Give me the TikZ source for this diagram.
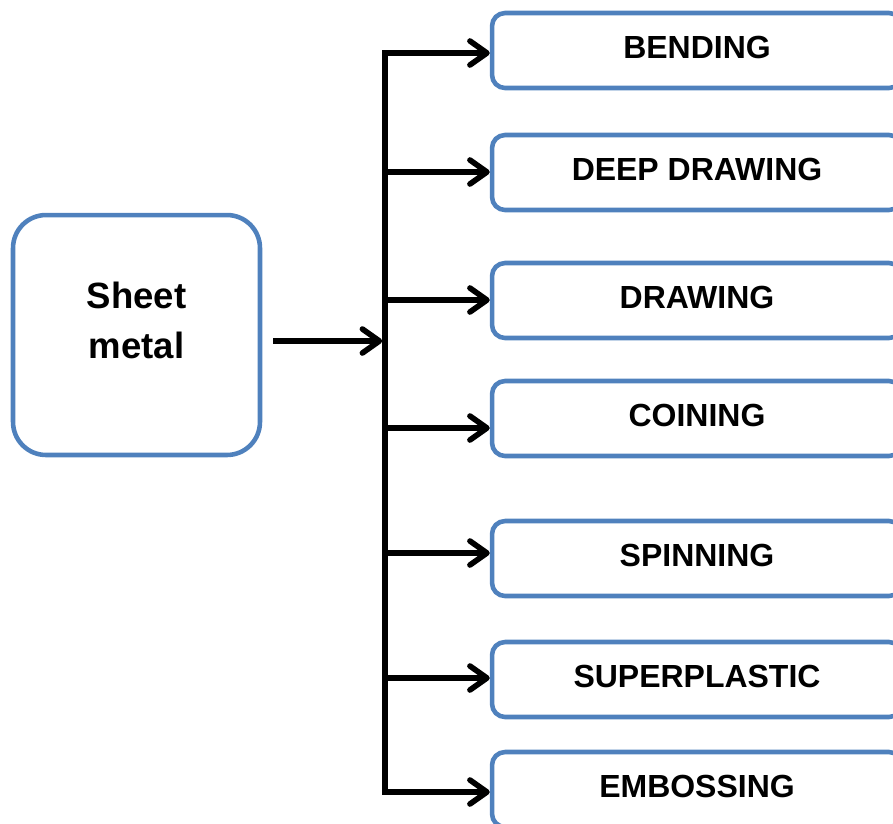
\documentclass[tikz,border=0pt]{standalone}
\usepackage{fontspec}
\setmainfont{Liberation Sans}
\usetikzlibrary{arrows.meta}
\definecolor{boxblue}{RGB}{79,129,189}
\tikzset{
	procnode/.style = {draw=boxblue, line width=2.6pt, rounded corners=0.26cm,
		minimum width=8.2cm, minimum height=1.5cm, inner sep=0pt, align=center,
		text depth=0.12cm, font=\fontsize{18.2}{22}\selectfont\bfseries},% one forming process
	srcnode/.style = {draw=boxblue, line width=2.6pt, rounded corners=0.66cm,
		minimum width=4.94cm, minimum height=4.8cm, inner sep=0pt, align=center,
		text depth=0.6cm, font=\fontsize{20.8}{28.5}\selectfont\bfseries},% the source box
	link/.style = {black, line width=3.2pt}% black connector
}
\begin{document}
\begin{tikzpicture}[x=0.02cm, y=-0.02cm, ->, >={Straight Barb[length=3.4mm, width=4.8mm, round]}]
	\useasboundingbox (0,0) rectangle (893,823);
	\node [srcnode] (sheet) at (136.5,335) {Sheet\\metal};
	\node [procnode] (bending)  at (697,50.5)  {BENDING};
	\node [procnode] (deepdraw) at (697,172.5) {DEEP DRAWING};
	\node [procnode] (drawing)  at (697,300.5) {DRAWING};
	\node [procnode] (coining)  at (697,418.5) {COINING};
	\node [procnode] (spinning) at (697,558.5) {SPINNING};
	\node [procnode] (superpl)  at (697,679.5) {SUPERPLASTIC};
	\node [procnode] (emboss)   at (697,789.5) {EMBOSSING};
	% points on the bus
	\coordinate (src) at (273,341);
	\coordinate (hub) at (385,341);
	\coordinate (b1) at (385,53);
	\coordinate (b2) at (385,172);
	\coordinate (b3) at (385,300);
	\coordinate (b4) at (385,428);
	\coordinate (b5) at (385,553);
	\coordinate (b6) at (385,678);
	\coordinate (b7) at (385,792);
	\draw [link, -, line cap=rect] (b1) -- (b7);
	\draw [link, shorten >=1.6pt] (src) -- (hub);
	\draw [link] (b1) -- (b1 -| bending.west);
	\draw [link] (b2) -- (b2 -| deepdraw.west);
	\draw [link] (b3) -- (b3 -| drawing.west);
	\draw [link] (b4) -- (b4 -| coining.west);
	\draw [link] (b5) -- (b5 -| spinning.west);
	\draw [link] (b6) -- (b6 -| superpl.west);
	\draw [link] (b7) -- (b7 -| emboss.west);
\end{tikzpicture}
\end{document}
